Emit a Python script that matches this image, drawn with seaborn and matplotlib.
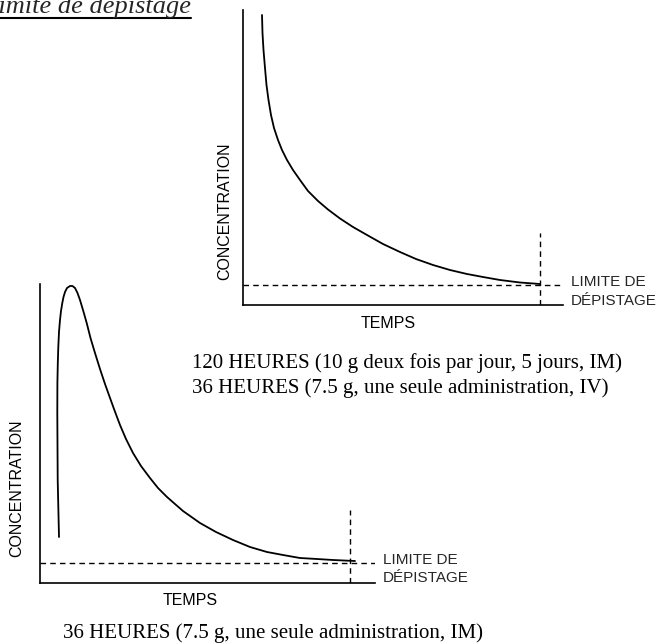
import pandas as pd
import seaborn as sns
from matplotlib import pyplot as plt

# curves (time, concentration in arbitrary units)
top_time = [19, 19.5, 20.5, 22, 23.5, 25.5, 28, 31, 35, 39, 44, 50, 57, 65, 75, 85,
            97, 110, 124, 140, 157, 173, 190, 207, 224, 240, 257, 277, 297]
top_conc = [290, 272, 255, 237, 220, 205, 190, 177, 165, 155, 145, 135, 125, 114, 104, 95.5,
            86.5, 78, 70, 61, 53, 46, 40, 35, 31, 28, 25, 22.5, 21]

bottom_time = [19, 17.7, 17.3, 17.4, 17.8, 18.3, 19, 20, 21, 22.3, 23.5, 25, 27, 30, 32.5,
               35, 37.5, 40, 43, 46.7, 50.5, 55, 60, 65, 74, 80, 86, 93, 101, 110, 118,
               127, 143, 160, 176, 193, 210, 227, 243, 260, 277, 293, 315]
bottom_conc = [46, 103, 170, 200, 220, 236, 251, 263, 272, 280, 286, 291, 295, 297, 297,
               295, 290, 283, 273, 260, 245, 230, 214, 199, 174, 158, 144, 130, 117, 105, 95,
               86, 72, 60, 51, 43, 36, 31, 28, 25, 24, 23, 22]

limit = 20
top_cut = 297
bottom_cut = 310

top_caption = ["120 HEURES (10 g deux fois par jour, 5 jours, IM)",
               "36 HEURES (7.5 g, une seule administration, IV)"]
bottom_caption = "36 HEURES (7.5 g, une seule administration, IM)"
title = "limite de dépistage"

sns.set_style("white")
plt.rcParams['font.family'] = ['Liberation Sans', 'DejaVu Sans']

W, H = 662, 643
fig = plt.figure(figsize=(W / 100, H / 100), dpi=100)


def px(x, y):
    return x / W, 1 - y / H


def make_axes(left, top, right, bottom):
    ax = fig.add_axes([left / W, 1 - bottom / H, (right - left) / W, (bottom - top) / H])
    ax.set_facecolor("none")
    sns.despine(ax=ax)
    for s in ["left", "bottom"]:
        ax.spines[s].set_linewidth(1.2)
        ax.spines[s].set_color("black")
    ax.set_xticks([])
    ax.set_yticks([])
    return ax


# top chart
ax1 = make_axes(243, 10, 563, 305)
df1 = pd.DataFrame({"temps": top_time, "conc": top_conc})
sns.lineplot(data=df1, x="temps", y="conc", ax=ax1, color="black", lw=1.3,
             sort=False, estimator=None, errorbar=None)
ax1.axhline(limit, color="black", lw=1, ls=(0, (4, 3)))
ax1.plot([top_cut, top_cut], [0, 72], color="black", lw=1, ls=(0, (4, 3)))
ax1.set_xlim(0, 320)
ax1.set_ylim(0, 295)
ax1.set_xlabel("")
ax1.set_ylabel("")

# bottom chart
ax2 = make_axes(40, 284, 375, 583)
df2 = pd.DataFrame({"temps": bottom_time, "conc": bottom_conc})
sns.lineplot(data=df2, x="temps", y="conc", ax=ax2, color="black", lw=1.3,
             sort=False, estimator=None, errorbar=None)
ax2.axhline(limit, color="black", lw=1, ls=(0, (4, 3)))
ax2.plot([bottom_cut, bottom_cut], [0, 73], color="black", lw=1, ls=(0, (4, 3)))
ax2.set_xlim(0, 335)
ax2.set_ylim(0, 299)
ax2.set_xlabel("")
ax2.set_ylabel("")

# axis labels
lab = dict(fontsize=11.5, color="black")
fig.text(*px(225, 211), "CONCENTRATION", rotation=90, ha="center", va="center", **lab)
fig.text(*px(17, 488), "CONCENTRATION", rotation=90, ha="center", va="center", **lab)
fig.text(*px(388, 328), "TEMPS", ha="center", va="baseline", **lab)
fig.text(*px(190, 605), "TEMPS", ha="center", va="baseline", **lab)
fig.text(*px(571, 286), "LIMITE DE", ha="left", va="baseline", fontsize=11)
fig.text(*px(571, 305), "DÉPISTAGE", ha="left", va="baseline", fontsize=11)
fig.text(*px(383, 564), "LIMITE DE", ha="left", va="baseline", fontsize=11)
fig.text(*px(383, 582), "DÉPISTAGE", ha="left", va="baseline", fontsize=11)

# captions
serif = dict(family=["Liberation Serif", "DejaVu Serif"], fontsize=15, color="black")
fig.text(*px(192, 368), top_caption[0], ha="left", va="baseline", **serif)
fig.text(*px(192, 393), top_caption[1], ha="left", va="baseline", **serif)
fig.text(*px(63, 638), bottom_caption, ha="left", va="baseline", **serif)

# title, cut off at the top edge as in the source, with underline
fig.text(*px(191, 13), title, ha="right", va="baseline", style="italic",
         family=["Liberation Serif", "DejaVu Serif"], fontsize=19)
fig.add_artist(plt.Line2D([0, 191 / W], [1 - 17.5 / H] * 2, color="black", lw=1.5))

fig.savefig("out.png", dpi=100)
